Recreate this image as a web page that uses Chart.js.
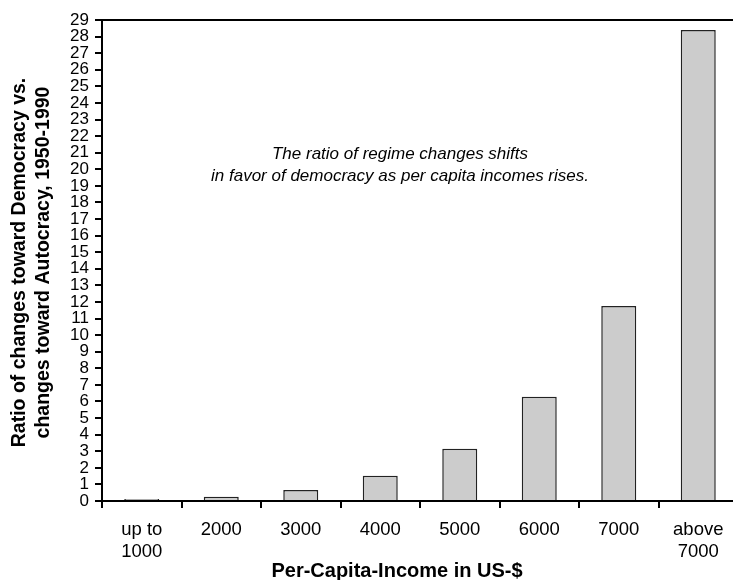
<!DOCTYPE html>
<html>
<head>
<meta charset="utf-8">
<script src="https://cdn.jsdelivr.net/npm/chart.js@4/dist/chart.umd.min.js"></script>
<style>
  html, body { margin: 0; padding: 0; background: #fff; overflow: hidden; }
  #wrap { width: 740px; height: 580px; position: relative; }
</style>
</head>
<body>
<div id="wrap"><canvas id="regimeChart"></canvas></div>
<script>
// 收入區間（x 軸）
const incomeLabels = [['up to', '1000'], '2000', '3000', '4000', '5000', '6000', '7000', ['above', '7000']];
// 民主化 / 專制化 比率
const ratioValues = [0.12, 0.26, 0.66, 1.52, 3.15, 6.29, 11.75, 28.39];
// y 軸刻度範圍
const yMin = 0;
const yMax = 29;
const yStep = 1;

const yTitleLines = ['Ratio of changes toward Democracy vs.', 'changes toward Autocracy, 1950-1990'];
const xTitle = 'Per-Capita-Income in US-$';
const noteLines = ['The ratio of regime changes shifts', 'in favor of democracy as per capita incomes rises.'];

const FONT = 'Arial, "Liberation Sans", Helvetica, sans-serif';

// 標題、註解、上框線
const textPlugin = {
    id: 'textPlugin',
    afterDraw(chart) {
        const ctx = chart.ctx;
        const area = chart.chartArea;
        ctx.save();

        // top frame line
        ctx.strokeStyle = '#000';
        ctx.lineWidth = 2;
        ctx.beginPath();
        ctx.moveTo(area.left, area.top);
        ctx.lineTo(chart.width, area.top);
        ctx.stroke();

        ctx.fillStyle = '#000';

        // y title (two rotated lines)
        const midY = (area.top + area.bottom) / 2 + 2;
        ctx.font = 'bold 19.5px ' + FONT;
        ctx.textAlign = 'center';
        ctx.textBaseline = 'middle';
        const xs = [20, 44];
        yTitleLines.forEach((line, i) => {
            ctx.save();
            ctx.translate(xs[i], midY);
            ctx.rotate(-Math.PI / 2);
            ctx.fillText(line, 0, 0);
            ctx.restore();
        });

        // x title
        ctx.font = 'bold 20px ' + FONT;
        ctx.textBaseline = 'alphabetic';
        ctx.fillText(xTitle, area.left + 295, 577);

        // note in the plot
        ctx.font = 'italic 17px ' + FONT;
        ctx.textBaseline = 'middle';
        noteLines.forEach((line, i) => {
            ctx.fillText(line, area.left + 298, area.top + 134 + i * 22);
        });

        ctx.restore();
    }
};

new Chart(document.getElementById('regimeChart'), {
    type: 'bar',
    data: {
        labels: incomeLabels,
        datasets: [{
            data: ratioValues,
            backgroundColor: '#cccccc',
            borderColor: '#222222',
            borderWidth: 1.5,
            barPercentage: 0.44,
            categoryPercentage: 1.0
        }]
    },
    options: {
        responsive: true,
        maintainAspectRatio: false,
        animation: false,
        layout: { padding: { top: 20, right: 2, bottom: 0, left: 0 } },
        plugins: {
            legend: { display: false },
            tooltip: { enabled: false }
        },
        scales: {
            x: {
                grid: {
                    offset: true,
                    drawOnChartArea: false,
                    drawTicks: true,
                    tickLength: 7,
                    color: '#000',
                    lineWidth: 2
                },
                border: { display: true, color: '#000', width: 2 },
                ticks: {
                    color: '#000',
                    font: { family: FONT, size: 18.5, lineHeight: 1.2 },
                    padding: 11,
                    maxRotation: 0,
                    autoSkip: false
                },
                afterFit(scale) { scale.height = 79; }
            },
            y: {
                min: yMin,
                max: yMax,
                grid: {
                    drawOnChartArea: false,
                    drawTicks: true,
                    tickLength: 7,
                    color: '#000',
                    lineWidth: 2
                },
                border: { display: true, color: '#000', width: 2 },
                ticks: {
                    stepSize: yStep,
                    autoSkip: false,
                    color: '#000',
                    font: { family: FONT, size: 17 },
                    padding: 6
                },
                afterFit(scale) { scale.width = 102; }
            }
        }
    },
    plugins: [textPlugin]
});
</script>
</body>
</html>
